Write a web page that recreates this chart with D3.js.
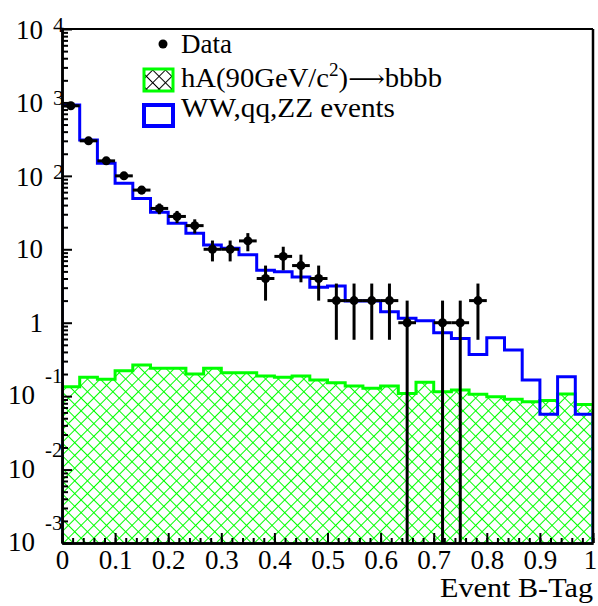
<!DOCTYPE html>
<html>
<head>
<meta charset="utf-8">
<script src="https://cdn.jsdelivr.net/npm/d3@7"></script>
<style>
  body { margin: 0; background: #fff; }
  svg { display: block; font-family: "Liberation Serif", "Times New Roman", serif; }
</style>
</head>
<body>
<div id="chart"></div>
<script>
// binning of the Event B-Tag histogram
const nBins = 30;
const xDomain = [0, 1];

// WW,qq,ZZ background (blue outline)
const background = [920, 308, 148, 79, 49, 32, 22.6, 16.5, 11.4, 10.3,
                    8.4, 5.2, 4.96, 4.2, 3.05, 3.16, 1.98, 1.98, 1.41, 1.15,
                    1.06, 0.73, 0.61, 0.37, 0.625, 0.425, 0.166, 0.0566, 0.184, 0.0566];

// hA(90GeV) -> bbbb signal (green hatched)
const signal = [0.1345, 0.181, 0.170, 0.222, 0.266, 0.239, 0.239, 0.200, 0.239, 0.208,
                0.208, 0.188, 0.181, 0.188, 0.166, 0.152, 0.137, 0.128, 0.137, 0.109,
                0.155, 0.115, 0.121, 0.106, 0.098, 0.091, 0.084, 0.087, 0.107, 0.077];

// observed events per bin
const dataCounts = [900, 300, 160, 100, 64, 36, 28, 21, 10, 10,
                    13, 4, 8, 6, 4, 2, 2, 2, 2, 1,
                    0, 1, 1, 2, 0, 0, 0, 0, 0, 0];

const xTickLabels = [0, 0.1, 0.2, 0.3, 0.4, 0.5, 0.6, 0.7, 0.8, 0.9, 1];
const yDecades = [-3, -2, -1, 0, 1, 2, 3, 4];
const legendLabels = ["Data", "hA(90GeV/c", "WW,qq,ZZ events"];

const margin = {top: 29, right: 5, bottom: 63, left: 62};
const W = 598, H = 606;
const width = W - margin.left - margin.right;
const height = H - margin.top - margin.bottom;
const serif = "Liberation Serif, Times New Roman, serif";

const svg = d3.select("#chart").append("svg")
    .attr("width", W)
    .attr("height", H);

const defs = svg.append("defs");
function hatch(id, color) {
  const p = defs.append("pattern")
      .attr("id", id)
      .attr("patternUnits", "userSpaceOnUse")
      .attr("width", 9).attr("height", 9)
      .attr("patternTransform", "rotate(45)");
  p.append("line").attr("x1", 4.5).attr("x2", 4.5).attr("y1", 0).attr("y2", 9)
      .attr("stroke", color).attr("stroke-width", 1);
  p.append("line").attr("y1", 4.5).attr("y2", 4.5).attr("x1", 0).attr("x2", 9)
      .attr("stroke", color).attr("stroke-width", 1);
}
hatch("hatchGreen", "#00ff00");
hatch("hatchBlack", "#000");

defs.append("clipPath").attr("id", "plotClip")
  .append("rect").attr("width", width).attr("height", height);

const g = svg.append("g")
    .attr("transform", `translate(${margin.left},${margin.top})`);

const x = d3.scaleLinear().domain(xDomain).range([0, width]);
const y = d3.scaleLog().domain([1e-3, 1e4]).range([height, 0]).clamp(true);

const binW = (xDomain[1] - xDomain[0]) / nBins;
const lowEdge = i => xDomain[0] + i * binW;

// step outline of a histogram, closed down to the bottom of the frame
function stepPath(values) {
  const pts = [[x(lowEdge(0)), height]];
  values.forEach((v, i) => {
    pts.push([x(lowEdge(i)), y(v)]);
    pts.push([x(lowEdge(i + 1)), y(v)]);
  });
  pts.push([x(lowEdge(nBins)), height]);
  return d3.line()(pts);
}

const plot = g.append("g").attr("clip-path", "url(#plotClip)");

// signal: hatched area + outline
plot.append("path")
    .attr("d", stepPath(signal) + "Z")
    .attr("fill", "url(#hatchGreen)")
    .attr("stroke", "none");
plot.append("path")
    .attr("d", stepPath(signal))
    .attr("fill", "none")
    .attr("stroke", "#00ff00")
    .attr("stroke-width", 3);

// background outline
plot.append("path")
    .attr("d", stepPath(background))
    .attr("fill", "none")
    .attr("stroke", "#0000ff")
    .attr("stroke-width", 3);

// data points with errors
const pts = dataCounts.map((n, i) => ({n, lo: lowEdge(i), hi: lowEdge(i + 1)}))
    .filter(d => d.n > 0);

const pg = plot.append("g").selectAll("g").data(pts).join("g");
pg.append("line")
    .attr("x1", d => x(d.lo)).attr("x2", d => x(d.hi))
    .attr("y1", d => y(d.n)).attr("y2", d => y(d.n))
    .attr("stroke", "#000").attr("stroke-width", 3);
pg.append("line")
    .attr("x1", d => x((d.lo + d.hi) / 2)).attr("x2", d => x((d.lo + d.hi) / 2))
    .attr("y1", d => y(Math.max(d.n - Math.sqrt(d.n), 1e-4)))
    .attr("y2", d => y(d.n + Math.sqrt(d.n)))
    .attr("stroke", "#000").attr("stroke-width", 3);
pg.append("circle")
    .attr("cx", d => x((d.lo + d.hi) / 2))
    .attr("cy", d => y(d.n))
    .attr("r", 4.5)
    .attr("fill", "#000");

// frame
g.append("line").attr("x1", 0).attr("x2", width).attr("y1", 0).attr("y2", 0)
    .attr("stroke", "#000").attr("stroke-width", 2);
g.append("line").attr("x1", width).attr("x2", width).attr("y1", 0).attr("y2", height)
    .attr("stroke", "#000").attr("stroke-width", 2.5);

// x axis
const xMinor = d3.range(0, 51).map(i => i * 0.02);
g.append("g").attr("class", "x-minor")
    .attr("transform", `translate(0,${height})`)
    .call(d3.axisBottom(x).tickValues(xMinor).tickSize(-5).tickSizeOuter(0).tickFormat(""));
const xAxisG = g.append("g").attr("class", "x-axis")
    .attr("transform", `translate(0,${height})`)
    .call(d3.axisBottom(x).tickValues(xTickLabels).tickSize(-10).tickSizeOuter(0)
          .tickPadding(7).tickFormat(d3.format("~g")));
xAxisG.attr("font-family", serif).attr("font-size", 27);
xAxisG.selectAll("text").attr("fill", "#000")
    .filter(d => d === 1).attr("dx", -3);

// y axis
const yMinor = y.ticks().filter(v => Math.abs(Math.log10(v) - Math.round(Math.log10(v))) > 1e-6);
g.append("g").attr("class", "y-minor")
    .call(d3.axisLeft(y).tickValues(yMinor).tickSize(-6).tickSizeOuter(0).tickFormat(""));
g.append("g").attr("class", "y-axis")
    .call(d3.axisLeft(y).tickValues(yDecades.map(e => Math.pow(10, e)))
          .tickSize(-10).tickSizeOuter(0).tickFormat(""));

svg.selectAll(".x-axis path, .x-minor path, .y-axis path, .y-minor path")
    .attr("stroke", "#000").attr("stroke-width", 2.5);
svg.selectAll(".tick line").attr("stroke", "#000").attr("stroke-width", 2);

// y labels
const yl = g.append("g").attr("class", "y-labels")
    .attr("font-family", serif).attr("font-size", 27).attr("fill", "#000");
yDecades.forEach(e => {
  const ty = y(Math.pow(10, e));
  if (e === 0 || e === 1) {
    yl.append("text").attr("x", -19).attr("y", ty + 9)
        .attr("text-anchor", "end").text(e === 0 ? "1" : "10");
  } else if (e > 1) {
    yl.append("text").attr("x", -19).attr("y", ty + 10)
        .attr("text-anchor", "end").text("10");
    yl.append("text").attr("x", -9).attr("y", ty + 3)
        .attr("font-size", 22).text(e);
  } else {
    yl.append("text").attr("x", -27).attr("y", ty + 8)
        .attr("text-anchor", "end").text("10");
    yl.append("text").attr("x", -17).attr("y", ty - 13)
        .attr("font-size", 21).text(String(e));
  }
});

// x title
svg.append("text")
    .attr("x", 440).attr("y", 597)
    .attr("font-family", serif)
    .attr("font-size", 27)
    .attr("textLength", 153)
    .attr("lengthAdjust", "spacingAndGlyphs")
    .text("Event B-Tag");

// legend
const leg = svg.append("g").attr("font-family", serif).attr("font-size", 27);
leg.append("circle").attr("cx", 163).attr("cy", 44).attr("r", 4.5).attr("fill", "#000");
leg.append("text").attr("x", 181).attr("y", 53).text(legendLabels[0]);

leg.append("rect").attr("x", 144).attr("y", 69).attr("width", 29).attr("height", 22)
    .attr("fill", "url(#hatchBlack)").attr("stroke", "#00ff00").attr("stroke-width", 3);
const t2 = leg.append("text").attr("x", 181).attr("y", 87)
    .attr("textLength", 261).attr("lengthAdjust", "spacingAndGlyphs");
t2.append("tspan").text(legendLabels[1]);
t2.append("tspan").attr("font-size", 18).attr("dy", -11).text("2");
t2.append("tspan").attr("dy", 11).text(")");
t2.append("tspan").attr("font-family", "DejaVu Serif, serif").attr("font-size", 24).text("\u27F6");
t2.append("tspan").text("bbbb");

leg.append("rect").attr("x", 144).attr("y", 105).attr("width", 29).attr("height", 21)
    .attr("fill", "none").attr("stroke", "#0000ff").attr("stroke-width", 4);
leg.append("text").attr("x", 181).attr("y", 117)
    .attr("textLength", 214).attr("lengthAdjust", "spacingAndGlyphs")
    .text(legendLabels[2]);
</script>
</body>
</html>
